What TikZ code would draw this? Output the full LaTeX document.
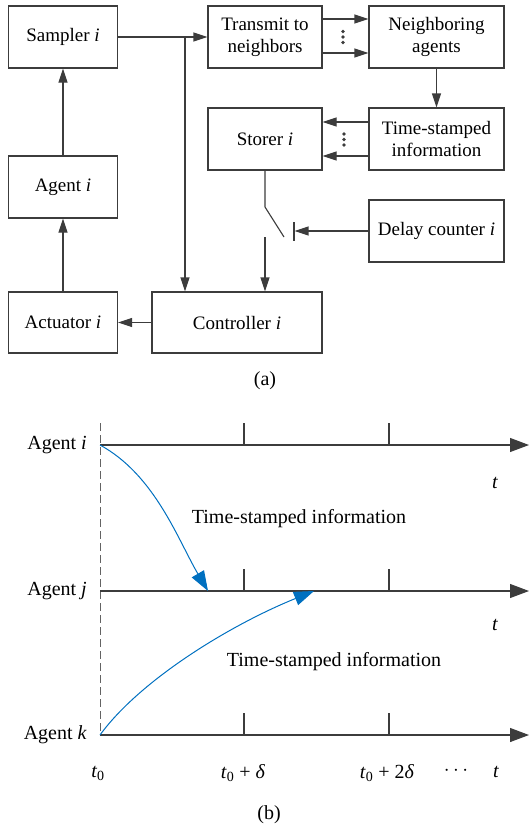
\documentclass[tikz,border=0pt]{standalone}
\usepackage{fontspec}
\setmainfont{Liberation Serif}
\usetikzlibrary{arrows.meta}
\definecolor{lc}{RGB}{60,60,60}
\definecolor{bl}{RGB}{0,112,192}
\begin{document}
\begin{tikzpicture}[x=1pt,y=-1pt,
  box/.style={draw=lc,line width=1.1pt,inner sep=0pt,align=center,font=\fontsize{19}{22}\selectfont},
  ln/.style={draw=lc,line width=1.1pt},
  arr/.style={ln,-{Triangle[length=14pt,width=9pt]}},
  axis/.style={ln,-{Triangle[length=19pt,width=14pt]}},
  bluearr/.style={draw=bl,line width=1pt,-{Triangle[length=20pt,width=14pt]},fill=none},
  lbl/.style={inner sep=0pt,font=\fontsize{20}{24}\selectfont},
  dash line/.style={draw=lc!80,line width=1pt,dash pattern=on 8pt off 4pt}]
\useasboundingbox (0,0) rectangle (530,825);

% ---------- (a) ----------
\node[box,minimum width=109pt,minimum height=62pt] (sampler) at (63,37) {Sampler \textit{i}};
\node[box,minimum width=109pt,minimum height=62pt] (agent) at (63,187) {Agent \textit{i}};
\node[box,minimum width=109pt,minimum height=61pt] (act) at (63,322.5) {Actuator \textit{i}};
\node[box,minimum width=170pt,minimum height=61pt] (ctrl) at (237,322.5) {Controller \textit{i}};
\node[box,minimum width=114pt,minimum height=62pt] (trans) at (265,37) {Transmit to\\neighbors};
\node[box,minimum width=135pt,minimum height=62pt] (neigh) at (436.5,37) {Neighboring\\agents};
\node[box,minimum width=114pt,minimum height=62pt] (store) at (265,139) {Storer \textit{i}};
\node[box,minimum width=135pt,minimum height=62pt] (stamp) at (436.5,139) {Time-stamped\\information};
\node[box,minimum width=135pt,minimum height=62pt] (delay) at (436.5,231) {Delay counter \textit{i}};

\coordinate (y19) at (0,19);
\coordinate (y53) at (0,53);
\coordinate (y122) at (0,122);
\coordinate (y156) at (0,156);
\coordinate (br) at (185,37);

\draw[arr] (sampler.east) -- (trans.west);
\draw[arr] (br) -- (br |- ctrl.north);
\draw[arr] (agent.north) -- (sampler.south);
\draw[arr] (act.north) -- (agent.south);
\draw[arr] (ctrl.west) -- (act.east);
\draw[arr] (trans.east |- y19) -- (neigh.west |- y19);
\draw[arr] (trans.east |- y53) -- (neigh.west |- y53);
\foreach \y in {31.5,37,42.5} \fill[lc] (343,\y) circle (1.8pt);
\draw[arr] (neigh.south) -- (stamp.north);
\draw[arr] (stamp.west |- y122) -- (store.east |- y122);
\draw[arr] (stamp.west |- y156) -- (store.east |- y156);
\foreach \y in {134,139.5,145} \fill[lc] (344,\y) circle (1.8pt);

% switch
\coordinate (s1) at (265,207);
\coordinate (s2) at (284,237);
\coordinate (s3) at (265,237);
\coordinate (bar) at (294.5,231);
\draw[ln] (store.south) -- (s1) -- (s2);
\draw[ln] (294,222) -- (294,241);
\draw[arr] (delay.west) -- (bar);
\draw[arr] (s3) -- (s3 |- ctrl.north);

\node[lbl] (capa) at (265,381) {(a)};

% ---------- (b) ----------
\coordinate (oi) at (100,445);
\coordinate (oj) at (100,591);
\coordinate (ok) at (100,735);
\coordinate (ei) at (529,445);
\coordinate (ej) at (529,591);
\coordinate (ek) at (529,735);
\draw[dash line] (100,423) -- (ok);
\draw[axis] (oi) -- (ei);
\draw[axis] (oj) -- (ej);
\draw[axis] (ok) -- (ek);
\foreach \x in {244,389} {
  \draw[ln] (\x,423) -- (\x,445);
  \draw[ln] (\x,569) -- (\x,591);
  \draw[ln] (\x,713) -- (\x,735);
}
\node[lbl,anchor=east] (li) at (87,445) {Agent \textit{i}};
\node[lbl,anchor=east] (lj) at (87,591) {Agent \textit{j}};
\node[lbl,anchor=east] (lk) at (87,735) {Agent \textit{k}};
\node[lbl] (t1) at (495,483) {\textit{t}};
\node[lbl] (t2) at (495,625) {\textit{t}};
\node[lbl] (t3) at (496,772) {\textit{t}};
\node[lbl] (tz) at (98,773) {\textit{t}\textsubscript{0}};
\node[lbl] (td) at (243,773) {\textit{t}\textsubscript{0} + \textit{δ}};
\node[lbl] (tdd) at (387,773) {\textit{t}\textsubscript{0} + 2\textit{δ}};
\node[lbl] (dots) at (456,771) {$\cdots$};
\node[lbl] (info1) at (299,519) {Time-stamped information};
\node[lbl] (info2) at (334,662) {Time-stamped information};
\coordinate (tip1) at (208,591);
\coordinate (tip2) at (314,591);
\draw[bluearr] (oi) .. controls (155,475) and (178,540) .. (tip1);
\draw[bluearr] (ok) .. controls (140,680) and (230,625) .. (tip2);
\node[lbl] (capb) at (269,815) {(b)};
\end{tikzpicture}
\end{document}
